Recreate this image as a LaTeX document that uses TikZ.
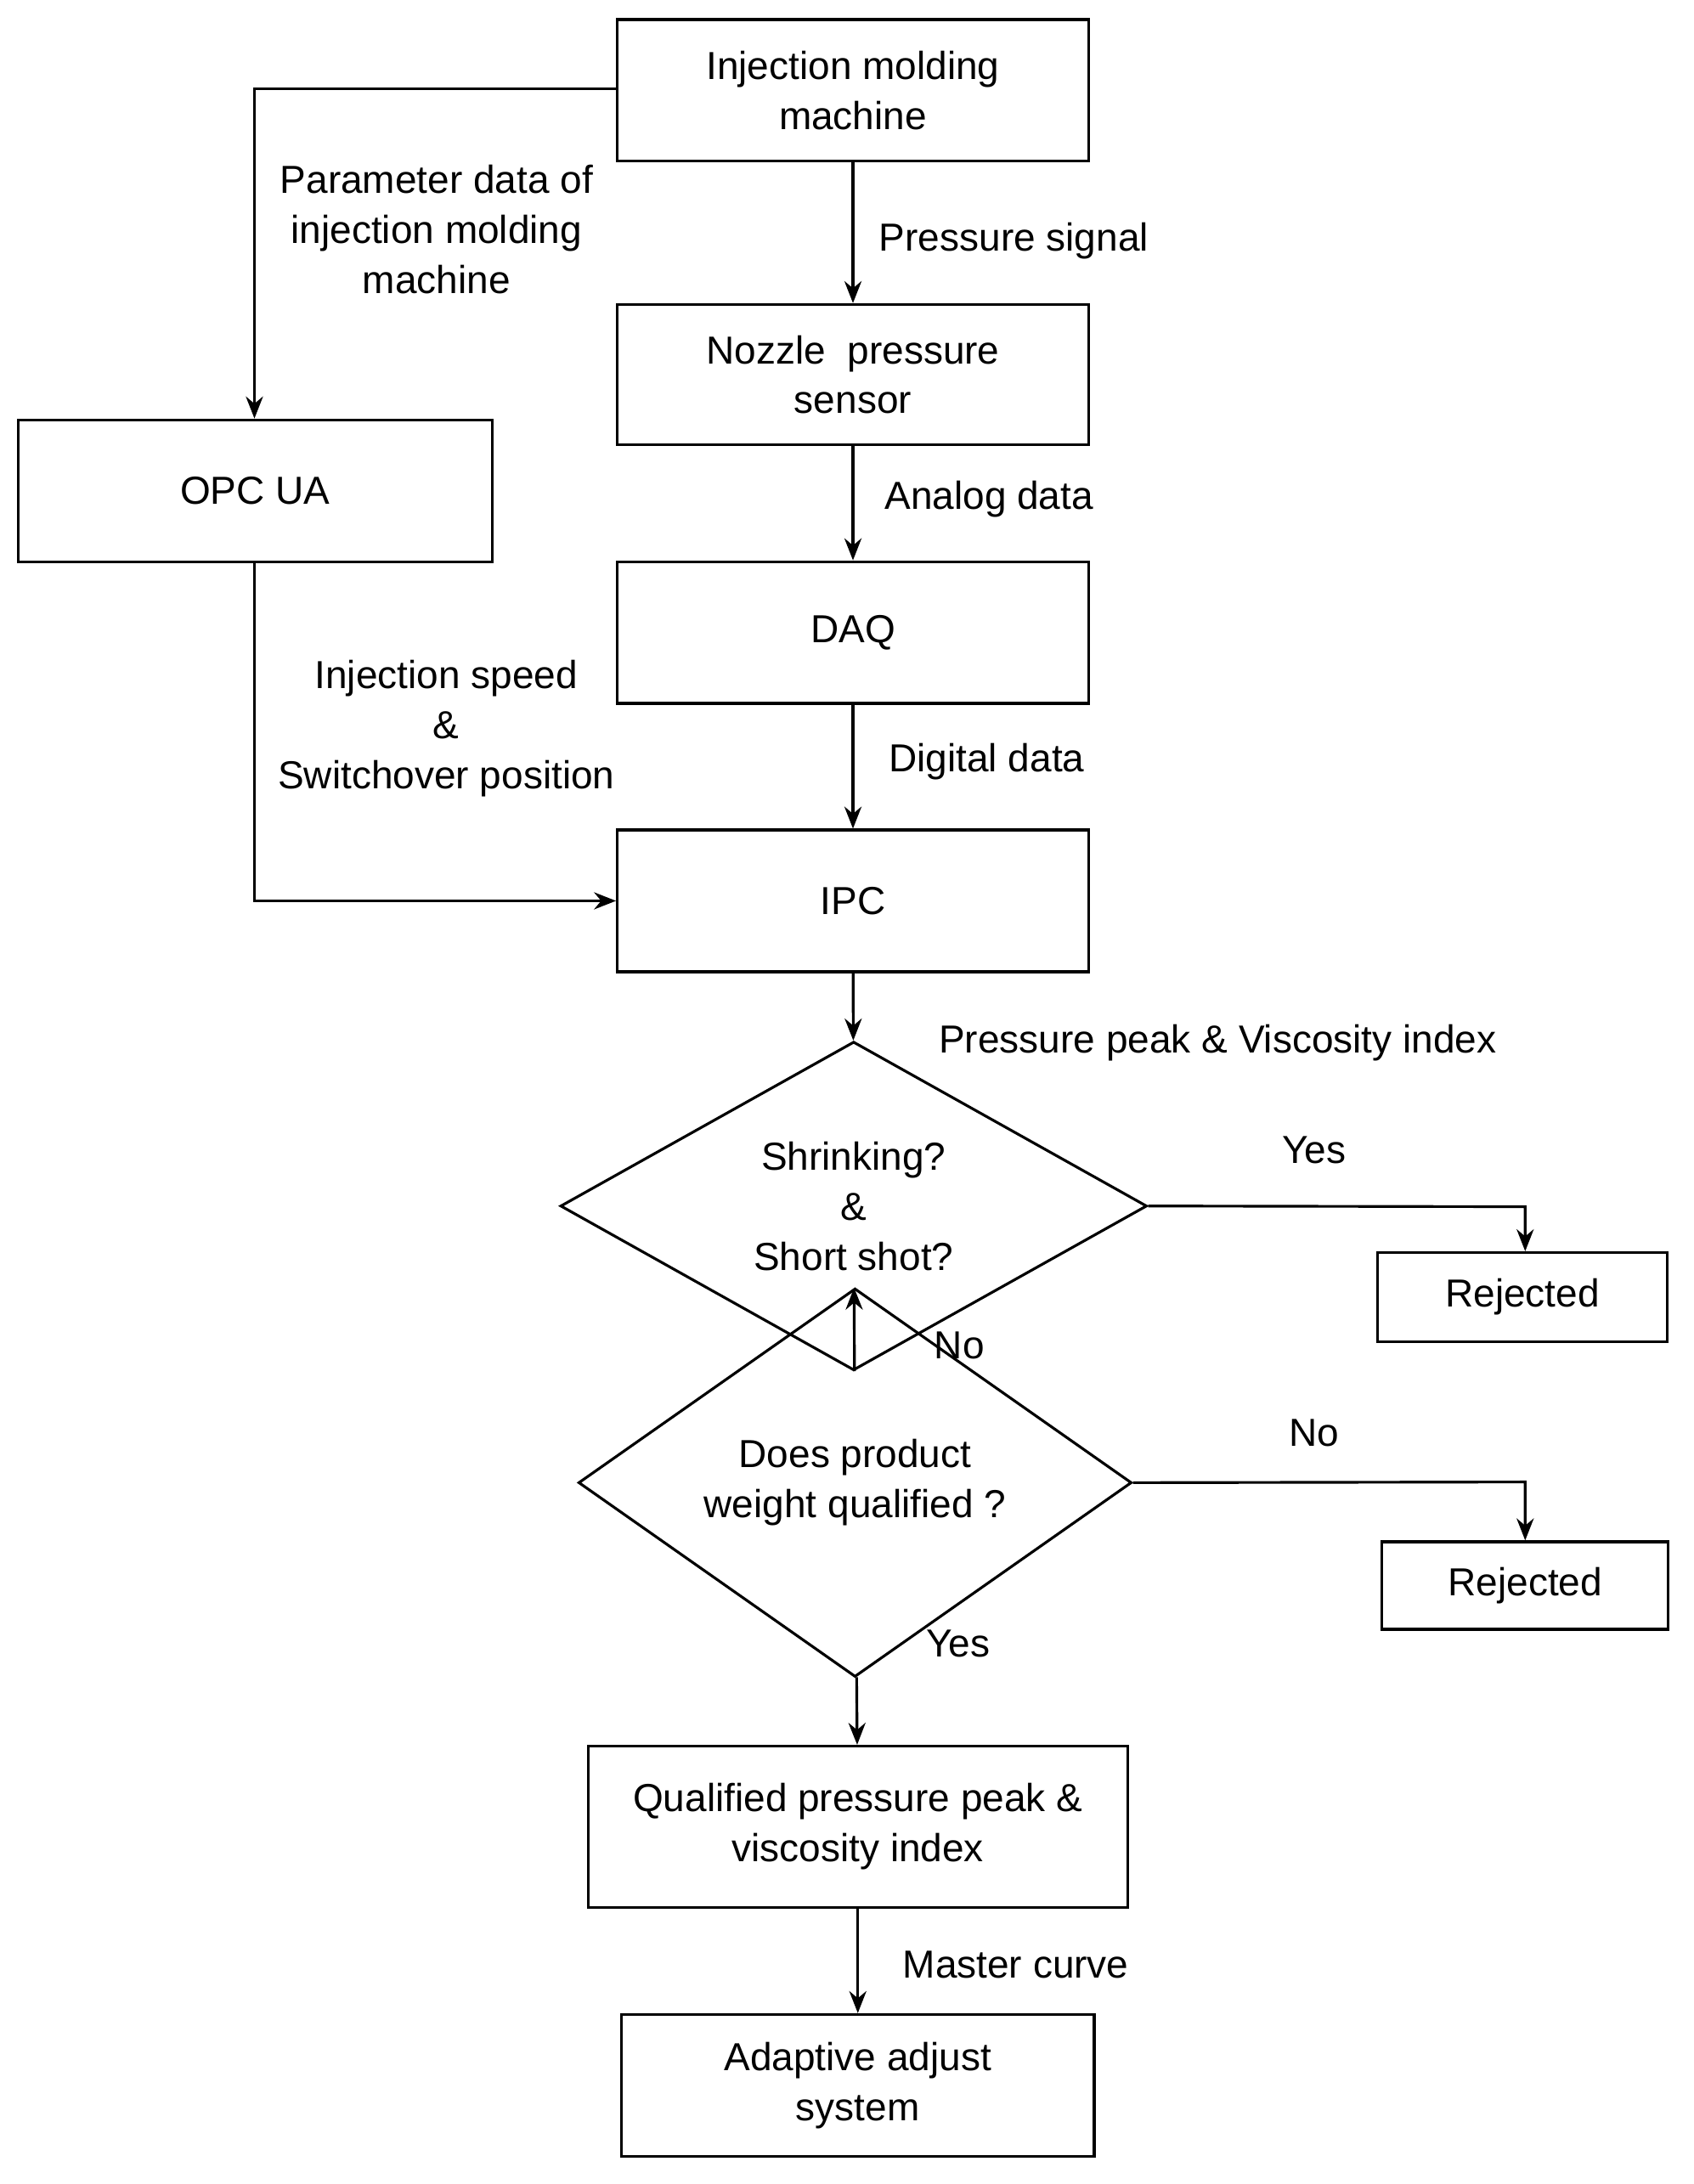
\documentclass[tikz,border=0pt]{standalone}
\usepackage{fontspec}
\setmainfont{Liberation Sans}
\usetikzlibrary{shapes.geometric,arrows.meta}
\begin{document}
\begin{tikzpicture}[x=0.02cm,y=-0.02cm,
  every node/.style={font=\fontsize{16}{20.5}\selectfont, align=center},
  box/.style={draw, line width=1.1pt, inner sep=0pt},
  dia/.style={draw, diamond, line width=1.1pt, inner sep=0pt},
  arr/.style={draw, line width=1.1pt, -{Stealth[length=9pt,width=7pt]}},
  lbl/.style={inner sep=0pt}]
\useasboundingbox (0,0) rectangle (1218,1571);
\node[box, minimum width=6.78cm, minimum height=2.04cm] (imm) at (613.5,65) {Injection molding\\machine};
\node[box, minimum width=6.78cm, minimum height=2.02cm] (nps) at (613.5,269.5) {Nozzle\ \ pressure\\sensor};
\node[box, minimum width=6.82cm, minimum height=2.04cm] (opc) at (183.5,353) {OPC UA};
\node[box, minimum width=6.78cm, minimum height=2.04cm] (daq) at (613.5,455) {DAQ};
\node[box, minimum width=6.78cm, minimum height=2.04cm] (ipc) at (613.5,648) {IPC};
\node[dia, minimum width=8.44cm, minimum height=3.58cm] (d1) at (614,867.5) {Shrinking?\\\&\\Short shot?};
\node[box, minimum width=4.16cm, minimum height=1.28cm] (r1) at (1095,933) {Rejected};
\node[dia, minimum width=7.96cm, minimum height=3.26cm] (d2) at (615,1066.5) {Does product\\weight qualified ?};
\node[box, minimum width=4.12cm, minimum height=1.26cm] (r2) at (1097,1140.5) {Rejected};
\node[box, minimum width=7.76cm, minimum height=2.32cm] (q) at (617,1314) {Qualified pressure peak \&\\viscosity index};
\node[box, minimum width=6.8cm, minimum height=2.04cm] (ad) at (617,1500) {Adaptive adjust\\system};

\coordinate (c1) at (183,64);
\coordinate (c2) at (183,648);
\coordinate (c3) at (1097,868);
\coordinate (c4) at (1097,1066);

\draw[arr] (imm.west |- c1) -- (c1) -- (opc.north -| c1);
\draw[arr] (opc.south -| c2) -- (c2) -- (ipc.west);
\draw[arr] (imm) -- (nps);
\draw[arr] (nps) -- (daq);
\draw[arr] (daq) -- (ipc);
\draw[arr] (ipc) -- (d1);
\draw[arr] (d1.east) -- (c3) -- (r1.north -| c3);
\draw[arr] (d1) -- (d2);
\draw[arr] (d2.east) -- (c4) -- (r2.north -| c4);
\draw[arr] (d2) -- (q);
\draw[arr] (q) -- (ad);

\node[lbl] (l1) at (314,165) {Parameter data of\\injection molding\\machine};
\node[lbl, anchor=west] (l2) at (632,173) {Pressure signal};
\node[lbl, anchor=west] (l3) at (636,359) {Analog data};
\node[lbl, anchor=west] (l4) at (639,548) {Digital data};
\node[lbl] (l5) at (321,524) {Injection speed\\\&\\Switchover position};
\node[lbl, anchor=west] (l6) at (675,750) {Pressure peak \& Viscosity index};
\node[lbl] (l7) at (945,827) {Yes};
\node[lbl] (l8) at (690,968) {No};
\node[lbl] (l9) at (945,1031) {No};
\node[lbl] (l10) at (689,1182) {Yes};
\node[lbl, anchor=west] (l11) at (649,1413) {Master curve};
\end{tikzpicture}
\end{document}
